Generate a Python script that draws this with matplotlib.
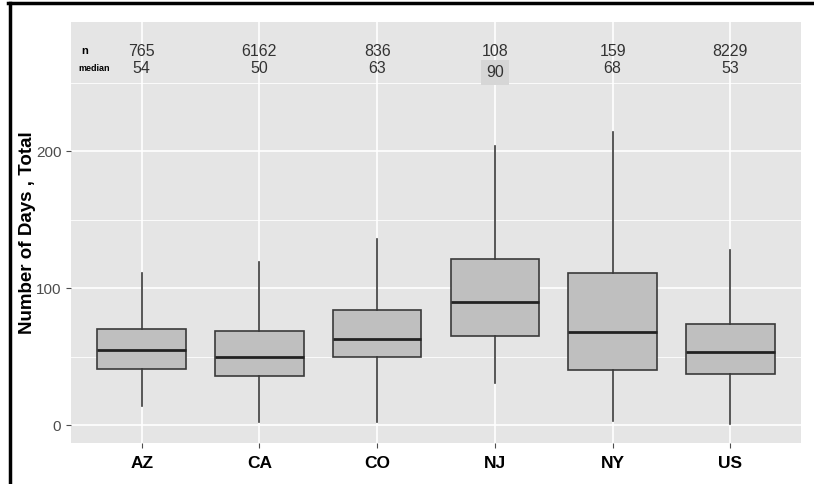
import matplotlib
matplotlib.use("Agg")
import matplotlib.pyplot as plt
from matplotlib.lines import Line2D

plt.rcParams['font.family'] = ['Liberation Sans', 'DejaVu Sans']

categories = ["AZ", "CA", "CO", "NJ", "NY", "US"]
n_counts = [765, 6162, 836, 108, 159, 8229]
medians = [54, 50, 63, 90, 68, 53]
# box statistics
whislo = [14, 2, 2, 31, 3, 1]
q1 = [41, 36, 50, 65, 40, 37]
med_drawn = [55, 50, 63, 89.5, 68, 53.5]
q3 = [70, 69, 84, 121, 111, 74]
whishi = [111, 119, 136, 204, 214, 128]
yticks = [0, 100, 200]

W, H = 814, 484
fig = plt.figure(figsize=(W / 100, H / 100), dpi=100)
ax = fig.add_axes([71 / W, (H - 443) / H, (801 - 71) / W, (443 - 22) / H])
ax.set_facecolor('#e5e5e5')

positions = list(range(1, len(categories) + 1))
stats = []
for i, c in enumerate(categories):
    stats.append(dict(label=c, whislo=whislo[i], q1=q1[i], med=med_drawn[i],
                      q3=q3[i], whishi=whishi[i], fliers=[]))
ax.bxp(stats, positions=positions, widths=0.75, patch_artist=True,
       showcaps=False, showfliers=False,
       boxprops=dict(facecolor='#bfbfbf', edgecolor='#3a3a3a', linewidth=1.2),
       whiskerprops=dict(color='#3a3a3a', linewidth=1.2),
       medianprops=dict(color='#222222', linewidth=2.0),
       zorder=3)

ax.set_xlim(0.4, len(categories) + 0.6)
ax.set_ylim(-13.1, 294.2)
ax.set_yticks(yticks)
ax.set_yticks([50, 150, 250], minor=True)
ax.set_xticks(positions)
ax.set_xticklabels(categories, fontsize=12.5, fontweight='bold', color='black')
ax.tick_params(axis='y', labelsize=11, labelcolor='#4d4d4d', color='#4d4d4d', length=3.5)
ax.tick_params(axis='x', color='#4d4d4d', length=3.5, pad=6)
ax.tick_params(axis='y', which='minor', length=0)
ax.grid(True, which='major', color='white', linewidth=1.2, zorder=0)
ax.grid(True, which='minor', axis='y', color='white', linewidth=0.6, zorder=0)
ax.set_axisbelow(True)
for s in ax.spines.values():
    s.set_visible(False)
ax.set_ylabel("Number of Days , Total", fontsize=13.5, fontweight='bold', labelpad=0)

# annotations
ax.text(0.52, 273, "n", fontsize=8, fontweight='bold', color='black', ha='center', va='center')
ax.text(0.6, 260, "median", fontsize=6.5, fontweight='bold', color='black', ha='center', va='center')
for i, p in enumerate(positions):
    ax.text(p, 273, str(n_counts[i]), fontsize=11.5, color='#333333', ha='center', va='center')
    if categories[i] == "NJ":
        ax.text(p, 257.5, str(medians[i]), fontsize=11.5, color='#333333', ha='center', va='center',
                bbox=dict(boxstyle='square,pad=0.3', facecolor='#d6d6d6', edgecolor='none'))
    else:
        ax.text(p, 260, str(medians[i]), fontsize=11.5, color='#333333', ha='center', va='center')

# black frame lines (top and left)
fig.add_artist(Line2D([9.5 / W, 9.5 / W], [0, 1 - 3 / H], transform=fig.transFigure, color='black', linewidth=2.5))
fig.add_artist(Line2D([8 / W, 1], [1 - 3 / H, 1 - 3 / H], transform=fig.transFigure, color='black', linewidth=2.5))

fig.savefig("out.png", dpi=100)
